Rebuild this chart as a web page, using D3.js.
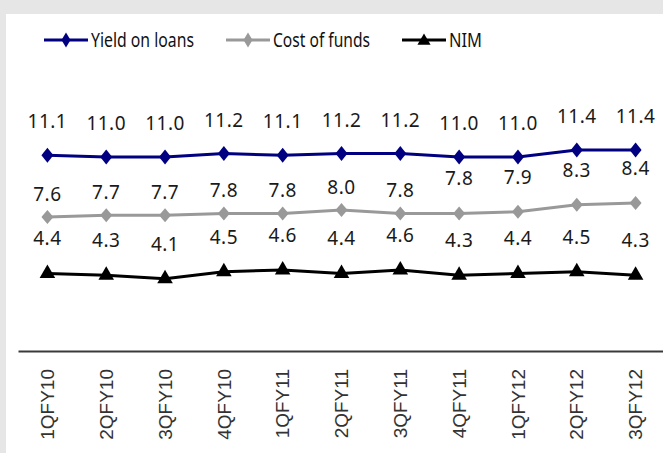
<html>
<head>
<script src="https://d3js.org/d3.v7.min.js"></script>
<style>
  body { margin: 0; background: #e6e6e6; }
  svg { display: block; }
</style>
</head>
<body>
<svg id="chart" width="663" height="453"></svg>
<script>
// data
var quarters = ["1QFY10","2QFY10","3QFY10","4QFY10","1QFY11","2QFY11","3QFY11","4QFY11","1QFY12","2QFY12","3QFY12"];
var yieldOnLoans = [11.1, 11.0, 11.0, 11.2, 11.1, 11.2, 11.2, 11.0, 11.0, 11.4, 11.4];
var costOfFunds  = [7.6, 7.7, 7.7, 7.8, 7.8, 8.0, 7.8, 7.8, 7.9, 8.3, 8.4];
var nim          = [4.4, 4.3, 4.1, 4.5, 4.6, 4.4, 4.6, 4.3, 4.4, 4.5, 4.3];
var seriesNames  = ["Yield on loans", "Cost of funds", "NIM"];

var svg = d3.select("#chart");

// white plot panel
svg.append("rect").attr("x", 6).attr("y", 14).attr("width", 657).attr("height", 439).attr("fill", "#ffffff");

var x = d3.scaleBand().domain(quarters).range([18, 665]);
var y = d3.scaleLinear().domain([0, 19]).range([351, 16]);
function cx(d) { return x(d) + x.bandwidth() / 2; }

function diamond(w, h) {
  return "M0," + (-h/2) + "L" + (w/2) + ",0L0," + (h/2) + "L" + (-w/2) + ",0Z";
}
var triangle = d3.symbol().type(d3.symbolTriangle).size(105)();

var series = [
  { name: seriesNames[0], values: yieldOnLoans, color: "#000080", marker: diamond(12, 15), lift: function(i){ return 27; } },
  { name: seriesNames[1], values: costOfFunds,  color: "#999999", marker: diamond(12, 14), lift: function(i){ return i < 7 ? 16 : 28; } },
  { name: seriesNames[2], values: nim,          color: "#000000", marker: triangle,        lift: function(i){ return 28; } }
];

// x axis
var xAxis = svg.append("g")
  .attr("transform", "translate(0,351)")
  .call(d3.axisBottom(x).tickSize(0).tickSizeOuter(0));
xAxis.select(".domain").attr("stroke", "#3a3a3a").attr("stroke-width", 2);
xAxis.selectAll("text")
  .attr("transform", "rotate(-90)")
  .attr("text-anchor", "end")
  .attr("x", -18)
  .attr("y", 0)
  .attr("dy", "0.35em")
  .style("font-family", "'Liberation Sans', Arial, sans-serif")
  .style("font-size", "19px")
  .attr("fill", "#333");

var line = d3.line()
  .x(function(d, i){ return cx(quarters[i]); })
  .y(function(d){ return y(d); });

series.forEach(function(s){
  var g = svg.append("g");
  g.append("path")
    .datum(s.values)
    .attr("d", line)
    .attr("fill", "none")
    .attr("stroke", s.color)
    .attr("stroke-width", 3);

  g.selectAll(".mark")
    .data(s.values)
    .enter()
    .append("path")
      .attr("d", s.marker)
      .attr("transform", function(d, i){ return "translate(" + cx(quarters[i]) + "," + y(d) + ")"; })
      .attr("fill", s.color);

  g.selectAll(".lbl")
    .data(s.values)
    .enter()
    .append("text")
      .attr("x", function(d, i){ return cx(quarters[i]); })
      .attr("y", function(d, i){ return y(d) - s.lift(i); })
      .attr("text-anchor", "middle")
      .style("font-family", "'Noto Sans', sans-serif")
      .style("font-size", "19px")
      .style("letter-spacing", "0.5px")
      .attr("fill", "#1a1a1a")
      .text(function(d){ return d.toFixed(1); });
});

// legend
var legendX = [44, 226, 402];
var legendW = [103, 97, 33];
series.forEach(function(s, i){
  var lg = svg.append("g").attr("transform", "translate(" + legendX[i] + ",40)");
  lg.append("line").attr("x1", 0).attr("x2", 44).attr("y1", 0).attr("y2", 0)
    .attr("stroke", s.color).attr("stroke-width", 3);
  lg.append("path")
    .attr("d", i == 2 ? d3.symbol().type(d3.symbolTriangle).size(75)() : diamond(9, 15))
    .attr("transform", "translate(22," + (i == 2 ? 1 : 0) + ")")
    .attr("fill", s.color);
  lg.append("text")
    .attr("x", 47)
    .attr("y", 7)
    .attr("textLength", legendW[i])
    .attr("lengthAdjust", "spacingAndGlyphs")
    .style("font-family", "'Noto Sans', sans-serif")
    .style("font-size", "20px")
    .attr("fill", "#111")
    .text(s.name);
});
</script>
</body>
</html>
